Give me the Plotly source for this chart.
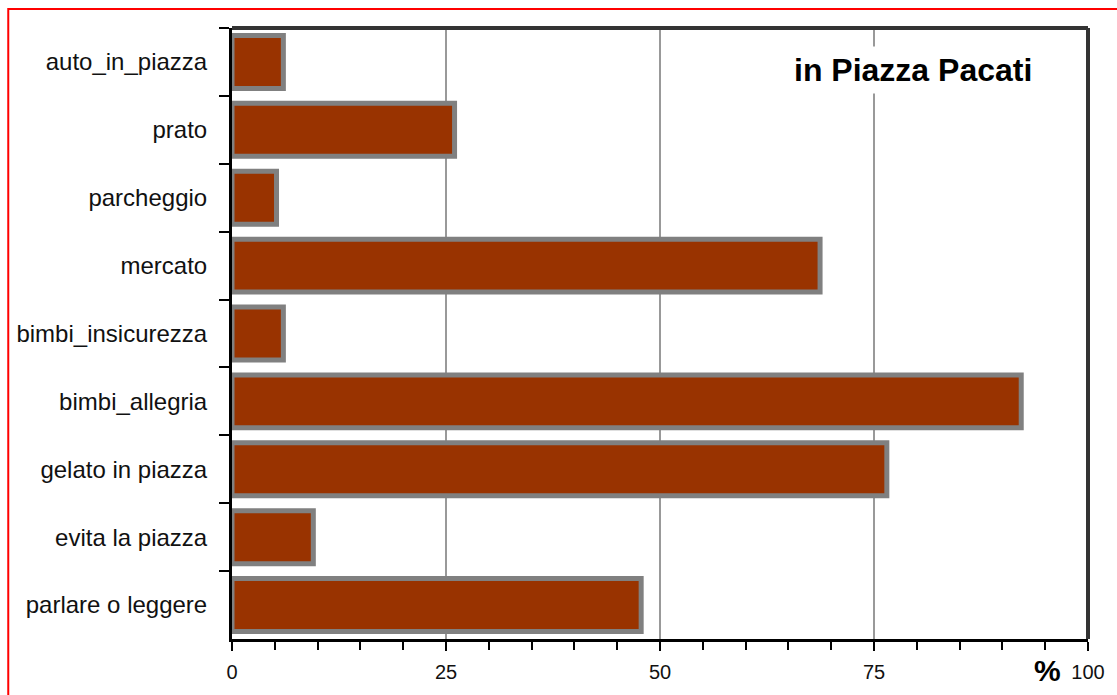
import plotly.graph_objects as go

categories = ["auto_in_piazza", "prato", "parcheggio", "mercato", "bimbi_insicurezza",
              "bimbi_allegria", "gelato in piazza", "evita la piazza", "parlare o leggere"]
values = [6.0, 26.0, 5.2, 68.7, 6.0, 92.2, 76.5, 9.5, 47.8]
x_tickvals = [0, 25, 50, 75, 100]
x_ticktext = ["0", "25", "50", "75", "100"]
title_text = "in Piazza Pacati"
unit_text = "%"

W, H = 1117, 695
L, R, T, B = 232, 28, 28, 53
pw, ph = W - L - R, H - T - B

def px_x(p):
    return (p - L) / pw

def px_y(p):
    return (H - B - p) / ph

fig = go.Figure()
fig.add_trace(go.Bar(
    x=values, y=categories, orientation="h",
    marker=dict(color="#993300", line=dict(color="#808080", width=5)),
    hoverinfo="x+y",
))

fig.update_layout(
    width=W, height=H,
    margin=dict(l=L, r=R, t=T, b=B),
    paper_bgcolor="white", plot_bgcolor="white",
    bargap=0.22,
    showlegend=False,
    font=dict(family="Liberation Sans, Arial, sans-serif", color="black"),
    xaxis=dict(
        range=[0, 100], tickvals=x_tickvals, ticktext=x_ticktext,
        ticks="outside", ticklen=9, tickwidth=2, tickcolor="black",
        showline=True, linewidth=3, linecolor="black",
        showgrid=True, gridcolor="#999999", gridwidth=2,
        zeroline=False,
        tickfont=dict(family="Liberation Sans, Arial", size=20, color="#111"),
        ticklabelstandoff=4,
        minor=dict(dtick=5, ticks="outside", ticklen=8, tickwidth=2, tickcolor="black", showgrid=False),
        fixedrange=True,
    ),
    yaxis=dict(
        type="category", autorange="reversed",
        tickson="boundaries", ticks="outside", ticklen=10, tickwidth=2, tickcolor="black",
        showline=True, linewidth=3, linecolor="black",
        showgrid=False, zeroline=False,
        tickfont=dict(family="Liberation Sans, Arial", size=24, color="#111"),
        ticklabelstandoff=17,
        fixedrange=True,
    ),
    shapes=[
        dict(type="line", xref="paper", yref="paper", x0=0, x1=1, y0=1, y1=1,
             line=dict(color="#333333", width=4), layer="above"),
        dict(type="line", xref="paper", yref="paper", x0=1, x1=1, y0=0, y1=1,
             line=dict(color="#333333", width=4), layer="above"),
        dict(type="rect", xref="paper", yref="paper",
             x0=px_x(8), x1=px_x(1140), y0=px_y(720), y1=px_y(9),
             line=dict(color="#ff0000", width=2), fillcolor="rgba(0,0,0,0)", layer="above"),
    ],
    annotations=[
        dict(text=title_text, xref="paper", yref="paper", x=px_x(914), y=px_y(70),
             showarrow=False, xanchor="center", yanchor="middle",
             font=dict(family="Liberation Sans, Arial", size=32, color="black", weight="bold"),
             bgcolor="white", borderpad=5),
        dict(text=unit_text, xref="paper", yref="paper", x=px_x(1048), y=px_y(674),
             showarrow=False, xanchor="center", yanchor="middle",
             font=dict(family="Liberation Sans, Arial", size=30, color="black", weight="bold")),
    ],
)

fig.write_html("out.html", config={"displayModeBar": False},
               post_script="document.body.style.margin='0';document.body.style.padding='0';")
